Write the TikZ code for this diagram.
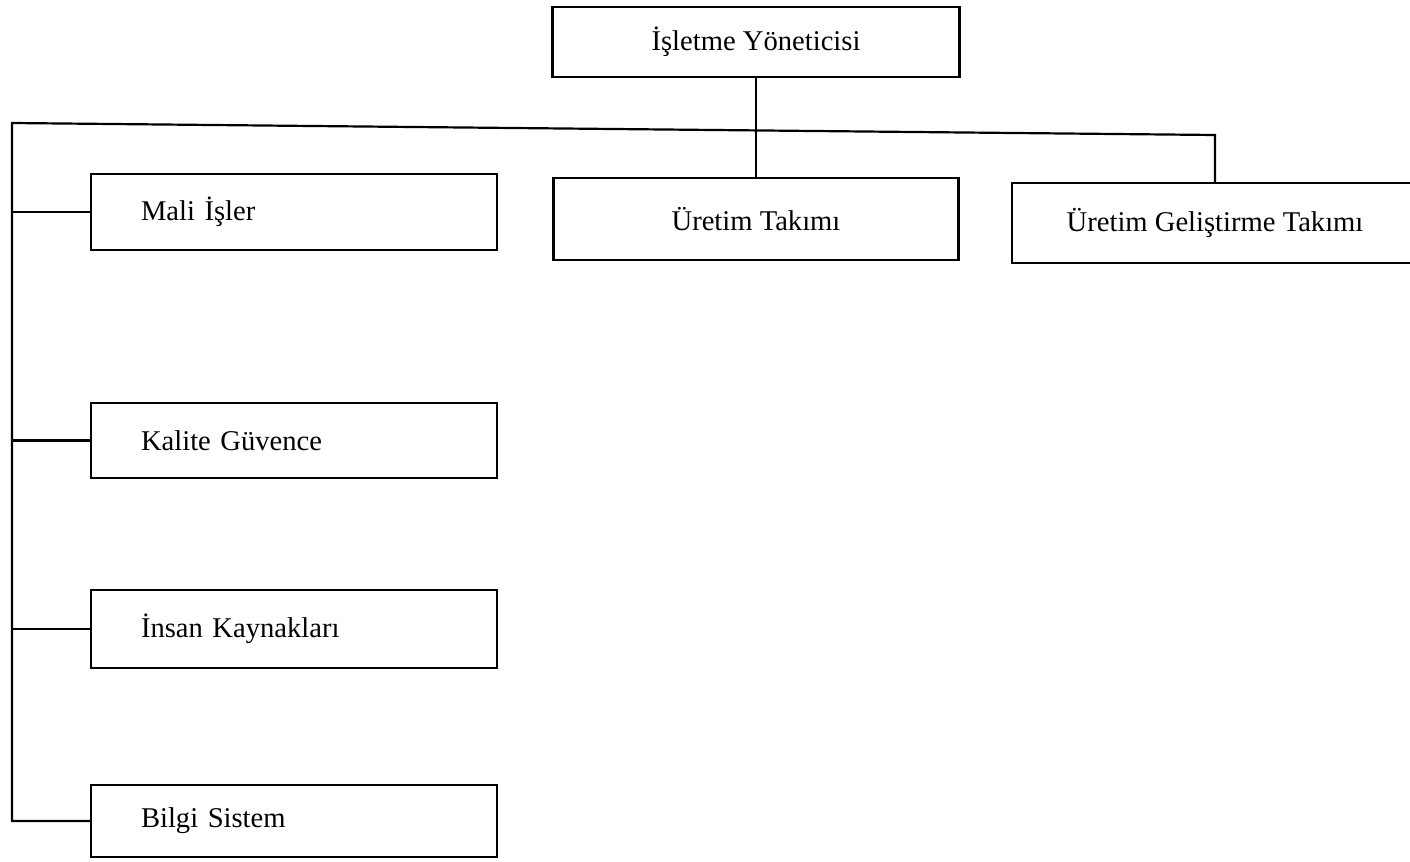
\documentclass[tikz,border=0pt]{standalone}
\usepackage{fontspec}
\setmainfont{Liberation Serif}
\begin{document}
\begin{tikzpicture}[x=0.5pt,y=-0.5pt,
  unit/.style={draw=black, line width=1.2pt, rectangle, inner sep=0pt,
    font=\fontsize{14.3}{17}\selectfont},
  cbox/.style={unit, align=center},
  lbox/.style={unit, minimum width=203pt, text width=153pt, inner xsep=25pt, align=left},
  link/.style={draw=black, line width=1.1pt, line join=miter}]
\useasboundingbox (0,0) rectangle (1410,862);

% head of the organisation
\node[cbox, minimum width=203.5pt, minimum height=35pt] (top) at (756,42) {İşletme Yöneticisi};

% teams along the top row
\node[cbox, minimum width=202.5pt, minimum height=41pt] (ut) at (756,219) {Üretim Takımı};
\node[cbox, minimum width=203pt, minimum height=40pt] (ugt) at (1215,223) {Üretim Geliştirme Takımı};

% staff units on the left
\node[lbox, minimum height=38pt] (mali) at (294,212) {Mali İşler};
\node[lbox, minimum height=37.5pt] (kalite) at (294,440.5) {Kalite Güvence};
\node[lbox, minimum height=39pt] (insan) at (294,629) {İnsan Kaynakları};
\node[lbox, minimum height=36pt] (bilgi) at (294,821) {Bilgi Sistem};

% main distribution line with the left spine
\coordinate (bl) at (12,123);
\coordinate (br) at (1215,135);
\draw[link] (top.south) -- (ut.north);
\draw[link] (bilgi.west) -- (bl |- bilgi.west) -- (bl) -- (br) -- (ugt.north);

% branches off the spine
\draw[link] (bl |- mali.west) -- (mali.west);
\draw[link] (bl |- kalite.west) -- (kalite.west);
\draw[link] (bl |- insan.west) -- (insan.west);
\end{tikzpicture}
\end{document}
